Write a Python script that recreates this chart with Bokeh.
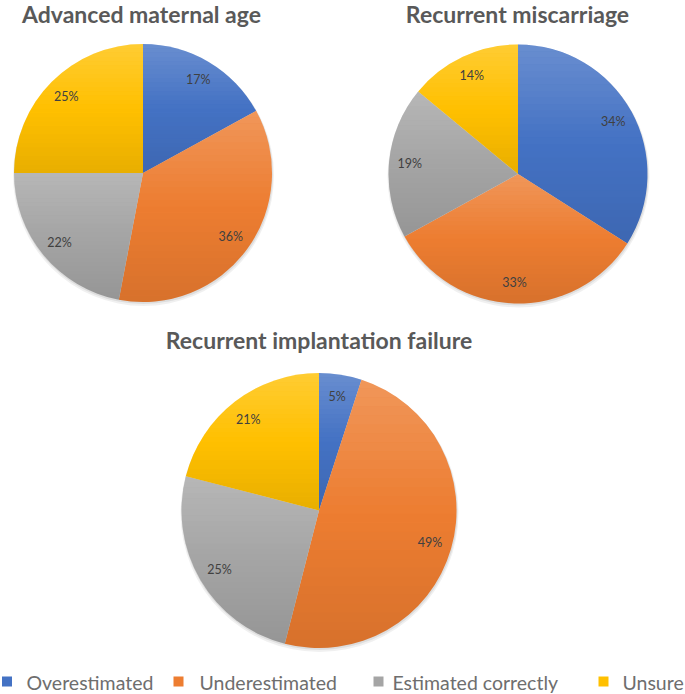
import math
from bokeh.plotting import figure
from bokeh.models import Range1d, ColumnDataSource
from bokeh.core.properties import value
from bokeh.embed import file_html
from bokeh.resources import INLINE

# ---------------- data ----------------
categories = ["Overestimated", "Underestimated", "Estimated correctly", "Unsure"]
titles = ["Advanced maternal age", "Recurrent miscarriage", "Recurrent implantation failure"]
advanced_maternal_age = [17, 36, 22, 25]
recurrent_miscarriage = [34, 33, 19, 14]
recurrent_implantation_failure = [5, 49, 25, 21]
series = [advanced_maternal_age, recurrent_miscarriage, recurrent_implantation_failure]

# ---------------- style / layout ----------------
colors = ["#4472C4", "#ED7D31", "#A5A5A5", "#FFC000"]
FONT = "Lato"
W, H = 685, 694
# pie layout in page pixels: (cx, cy, r), title centre y
pies = [(142.5, 172.5, 129.0), (517.5, 173.5, 129.5), (318.5, 510.0, 137.5)]
title_pos = [(141, 13.5), (517, 13.5), (318.5, 339)]
LABEL_R = 0.84

p = figure(width=W, height=H, output_backend="svg", toolbar_location=None,
           x_range=Range1d(0, W), y_range=Range1d(-H, 0),
           min_border=0, outline_line_color=None, background_fill_color="white")
p.axis.visible = False
p.grid.visible = False


def clip(poly, yv, keep_above):
    out = []
    n = len(poly)
    for i in range(n):
        a, b = poly[i], poly[(i + 1) % n]
        ina = (a[1] >= yv) if keep_above else (a[1] <= yv)
        inb = (b[1] >= yv) if keep_above else (b[1] <= yv)
        if ina:
            out.append(a)
        if ina != inb:
            t = (yv - a[1]) / (b[1] - a[1])
            out.append((a[0] + t * (b[0] - a[0]), yv))
    return out


for (cx, cy_img, r), vals, title, (tx, ty) in zip(pies, series, titles, title_pos):
    cy = -cy_img
    total = float(sum(vals))
    starts, ends, mids = [], [], []
    cum = 0.0
    for v in vals:
        a0 = math.pi / 2 - 2 * math.pi * cum / total
        cum += v
        a1 = math.pi / 2 - 2 * math.pi * cum / total
        starts.append(a0)
        ends.append(a1)
        mids.append((a0 + a1) / 2)

    # soft shadow
    p.circle(x=[cx + 0.5], y=[cy - 2.5], radius=r + 1.5, fill_color="#000000",
             fill_alpha=0.06, line_color=None)
    p.circle(x=[cx + 0.5], y=[cy - 1.5], radius=r + 0.5, fill_color="#000000",
             fill_alpha=0.08, line_color=None)

    src = ColumnDataSource(dict(start=starts, end=ends, color=colors,
                                cat=categories, val=vals))
    p.wedge(x=cx, y=cy, radius=r, start_angle="start", end_angle="end",
            direction="clock", fill_color="color", line_color=None, source=src)

    # per-slice vertical gradient (lighter top, darker bottom)
    xs_all, ys_all, fc, fa = [], [], [], []
    NB = 30
    for a0, a1 in zip(starts, ends):
        npts = max(4, int(abs(a0 - a1) / (2 * math.pi) * 240))
        poly = [(cx, cy)] + [(cx + r * math.cos(a0 + (a1 - a0) * k / npts),
                              cy + r * math.sin(a0 + (a1 - a0) * k / npts))
                             for k in range(npts + 1)]
        ytop = max(q[1] for q in poly)
        ybot = min(q[1] for q in poly)
        for k in range(NB):
            hi = ytop - (ytop - ybot) * k / NB
            lo = ytop - (ytop - ybot) * (k + 1) / NB
            band = clip(clip(poly, lo, True), hi, False)
            if len(band) < 3:
                continue
            t = (k + 0.5) / NB
            xs_all.append([q[0] for q in band])
            ys_all.append([q[1] for q in band])
            if t < 0.5:
                fc.append("#ffffff")
                fa.append(0.20 * (1 - 2 * t))
            else:
                fc.append("#000000")
                fa.append(0.09 * (2 * t - 1))
    p.patches(xs=xs_all, ys=ys_all, fill_color=fc, fill_alpha=fa, line_color=None)

    # percentage labels
    lx = [cx + LABEL_R * r * math.cos(m) for m in mids]
    ly = [cy + LABEL_R * r * math.sin(m) for m in mids]
    p.text(x=lx, y=ly, text=[f"{v}%" for v in vals], text_font=value(FONT),
           text_font_size="12.5px", text_color="#404040", text_align="center",
           text_baseline="middle")

    # title
    p.text(x=[tx], y=[-ty], text=[title], text_font=value(FONT),
           text_font_style="bold", text_font_size="23px", text_color="#595959",
           text_align="center", text_baseline="middle")

# legend (manual, horizontal at bottom)
sq_x = [6.5, 178, 378, 603]
tx_x = [26, 199, 392, 622]
p.scatter(x=sq_x, y=[-681] * 4, marker="square", size=10, fill_color=colors,
          line_color=None)
p.text(x=tx_x, y=[-681.5] * 4, text=categories, text_font=value(FONT),
       text_font_size="19.5px", text_color="#6E6E6E", text_align="left",
       text_baseline="middle")

open("out.html", "w").write(file_html(p, INLINE))
